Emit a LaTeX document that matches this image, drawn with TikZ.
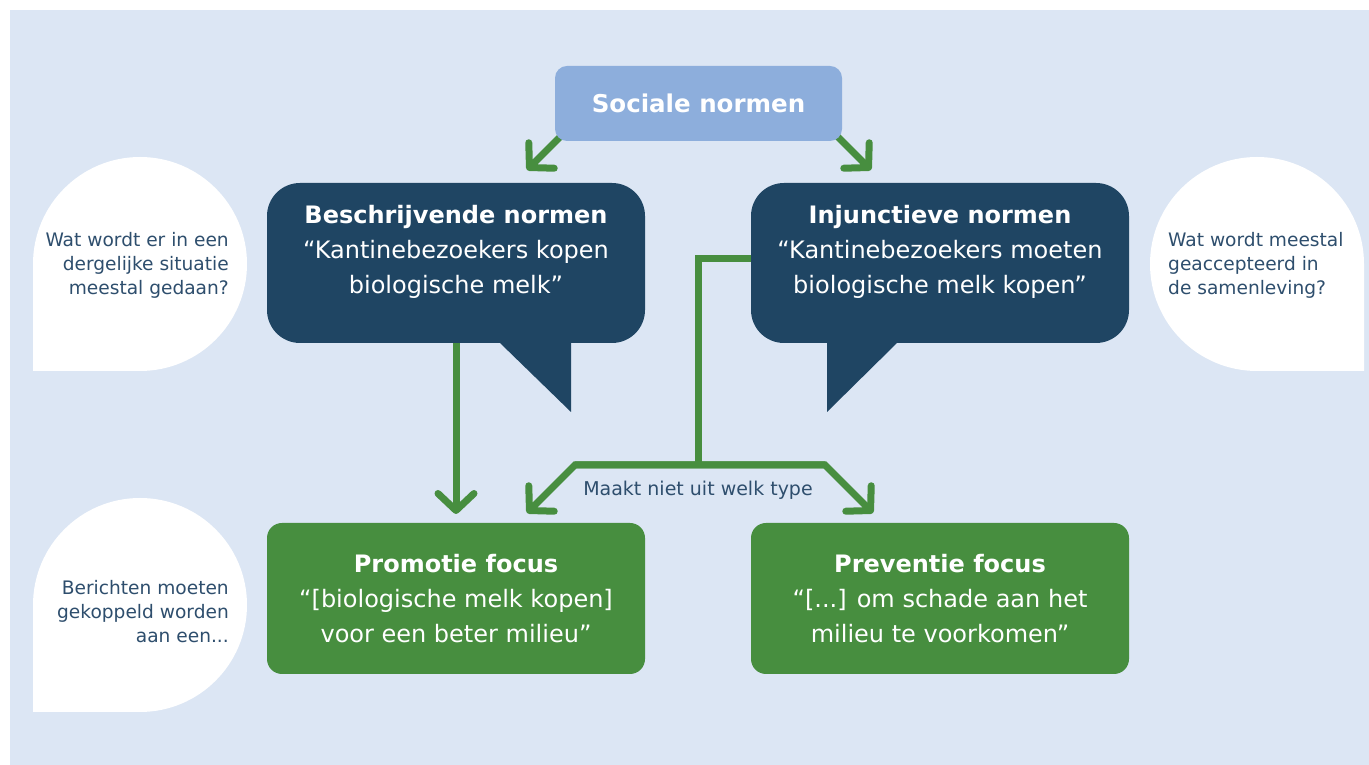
\documentclass[tikz,border=0pt]{standalone}
\usepackage{fontspec}
\setmainfont{DejaVu Sans}
\usetikzlibrary{arrows.meta}
\definecolor{bgblue}{HTML}{DCE6F4}
\definecolor{navy}{HTML}{1F4563}
\definecolor{grn}{HTML}{478E3F}
\definecolor{socblue}{HTML}{8DAEDC}
\definecolor{txtblue}{HTML}{2E4E6D}
\pgfdeclarelayer{bg}
\pgfsetlayers{bg,main}
\tikzset{
  navybox/.style={fill=navy, rounded corners=33pt, minimum width=378pt, minimum height=160pt, inner sep=0pt},
  greenbox/.style={fill=grn, rounded corners=15pt, minimum width=378pt, minimum height=151pt, inner sep=0pt},
  boxtext/.style={text=white, align=center, inner sep=0pt, font=\fontsize{24}{35}\selectfont},
  bubble/.style={fill=white},
  bubbletext/.style={text=txtblue, inner sep=0pt, font=\fontsize{18.6}{24}\selectfont},
  link/.style={draw=grn, line width=7pt, line join=miter},
  arr/.style={link, -{Straight Barb[length=17pt,width=36pt,round]}}
}
\begin{document}
\begin{tikzpicture}[x=1pt,y=1pt]
\useasboundingbox (0,0) rectangle (1369,765);
\begin{pgfonlayer}{bg}
\fill[white] (0,0) rectangle (1369,765);
\fill[bgblue] (10,0) rectangle (1369,755);
\end{pgfonlayer}

% speech bubbles
\fill[bubble] (33,394) -- (33,501) arc[start angle=180,end angle=90,radius=107] arc[start angle=90,end angle=-90,radius=107] -- cycle;
\fill[bubble] (33,53) -- (33,160) arc[start angle=180,end angle=90,radius=107] arc[start angle=90,end angle=-90,radius=107] -- cycle;
\fill[bubble] (1364,394) -- (1364,501) arc[start angle=0,end angle=90,radius=107] arc[start angle=90,end angle=270,radius=107] -- cycle;

\node[bubbletext, align=right, anchor=east] (q1) at (229,500) {Wat wordt er in een\\dergelijke situatie\\meestal gedaan?};
\node[bubbletext, align=right, anchor=east] (q3) at (229,153) {Berichten moeten\\gekoppeld worden\\aan een...};
\node[bubbletext, align=left, anchor=west] (q2) at (1168,500) {Wat wordt meestal\\geaccepteerd in\\de samenleving?};

% boxes
\node[fill=socblue, rounded corners=12pt, minimum width=287pt, minimum height=75pt, inner sep=0pt,
      text=white, font=\fontsize{24.5}{28}\selectfont\bfseries] (soc) at (698.5,661.5) {Sociale normen};

\node[navybox] (bes) at (456,502) {};
\fill[navy] (500,432) -- (500,422) -- (571,353) -- (571,432) -- cycle;
\node[boxtext] (bestext) at (456,513) {\textbf{Beschrijvende normen}\\“Kantinebezoekers kopen\\biologische melk”};

\node[navybox] (inj) at (940,502) {};
\fill[navy] (827,432) -- (827,353) -- (897,422) -- (897,432) -- cycle;
\node[boxtext] (injtext) at (940,513) {\textbf{Injunctieve normen}\\“Kantinebezoekers moeten\\biologische melk kopen”};

\node[greenbox] (pro) at (456,166.5) {};
\node[boxtext] (protext) at (456,166) {\textbf{Promotie focus}\\“[biologische melk kopen]\\voor een beter milieu”};

\node[greenbox] (pre) at (940,166.5) {};
\node[boxtext] (pretext) at (940,166) {\textbf{Preventie focus}\\“[...] om schade aan het\\milieu te voorkomen”};

\node[text=txtblue, inner sep=0pt, font=\fontsize{19}{22}\selectfont] (lbl) at (698,275) {Maakt niet uit welk type};

% connectors
\coordinate (sL) at (566,634);
\coordinate (tipBes) at (527,595);
\coordinate (sR) at (832,634);
\coordinate (tipInj) at (871,595);
\coordinate (tipP) at (456,251);
\coordinate (j) at (698,300);
\coordinate (jl) at (575,300);
\coordinate (jr) at (825,300);
\coordinate (tipL) at (527,252);
\coordinate (tipR) at (873,252);

\begin{pgfonlayer}{bg}
\draw[arr] (sL) -- (tipBes);
\draw[arr] (sR) -- (tipInj);
\draw[arr] (bes.center) -- (bes.center |- tipP);
\draw[link] ([yshift=4pt]inj.center) -| (j);
\draw[arr] (jr) -- (jl) -- (tipL);
\draw[arr] (jl) -- (jr) -- (tipR);
\end{pgfonlayer}
\end{tikzpicture}
\end{document}
